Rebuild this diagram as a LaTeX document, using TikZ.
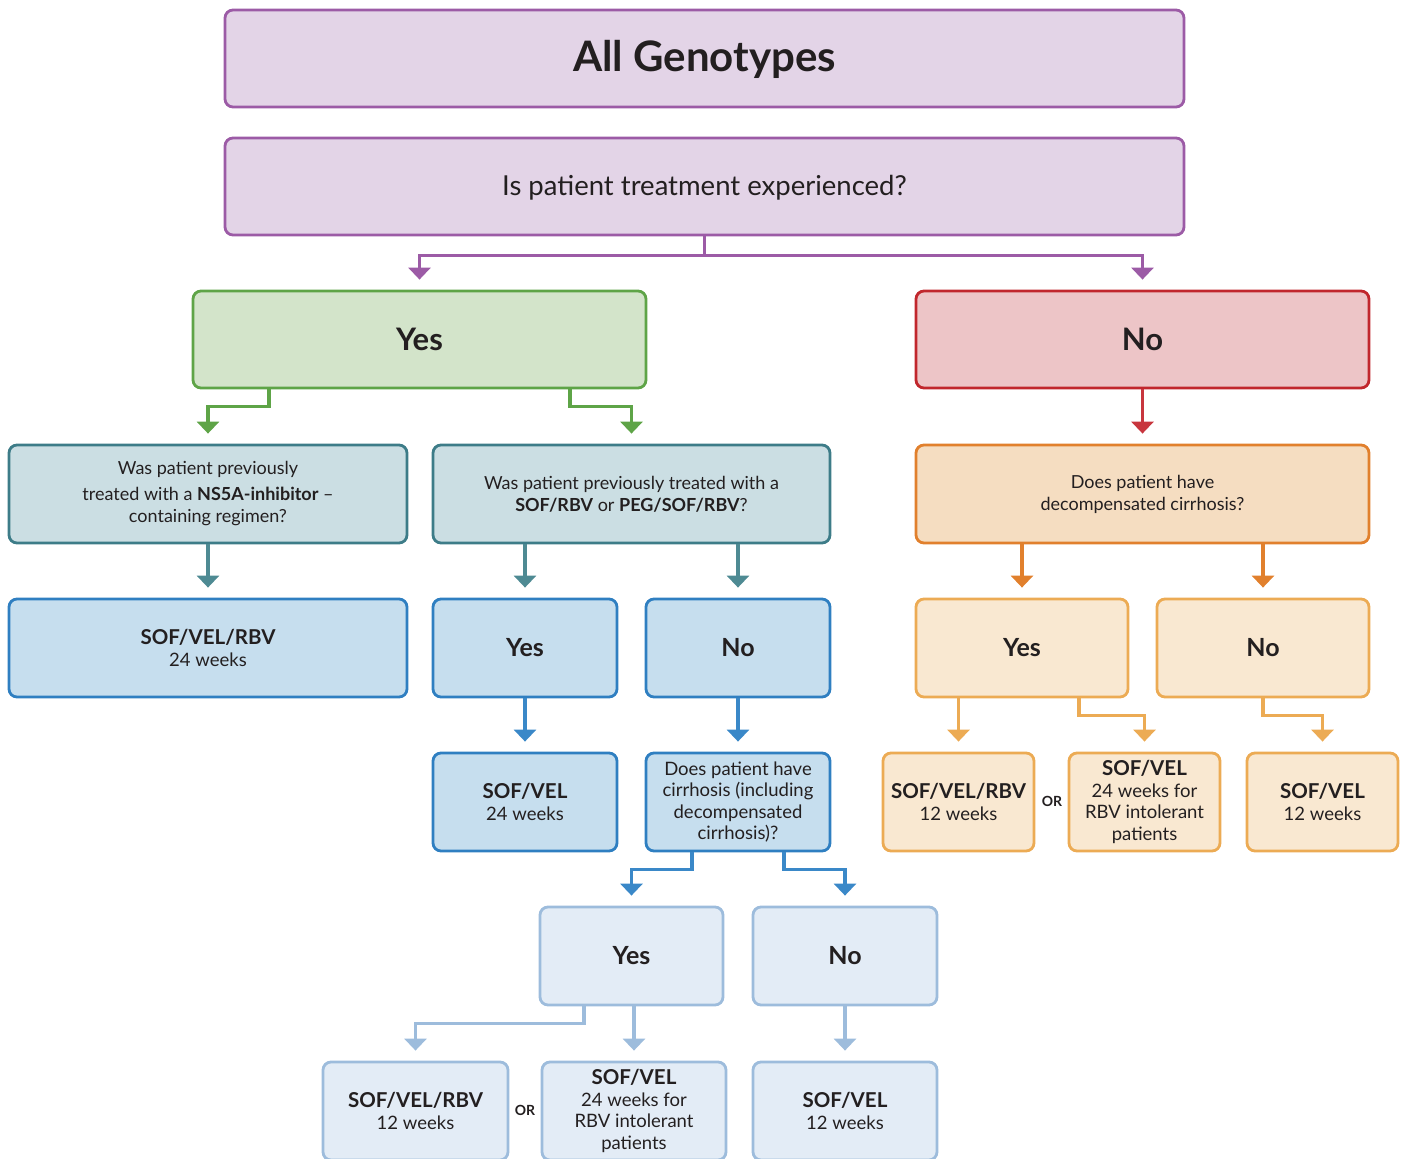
\documentclass[tikz,border=0pt]{standalone}
\usepackage{fontspec}
\setmainfont{Lato}
\usetikzlibrary{arrows.meta}
\definecolor{ink}{HTML}{231F20}
\definecolor{purB}{HTML}{9C5BA6}\definecolor{purF}{HTML}{E3D4E7}
\definecolor{grnB}{HTML}{5EA447}\definecolor{grnF}{HTML}{D3E4CA}
\definecolor{redB}{HTML}{C1272D}\definecolor{redF}{HTML}{EDC5C7}\definecolor{redA}{HTML}{C8363E}
\definecolor{tealB}{HTML}{3D7C88}\definecolor{tealF}{HTML}{CBDEE3}\definecolor{tealA}{HTML}{4E8A93}
\definecolor{orgB}{HTML}{E1802D}\definecolor{orgF}{HTML}{F5DDC1}
\definecolor{lorB}{HTML}{ECAB54}\definecolor{lorF}{HTML}{F9E8D1}
\definecolor{bluB}{HTML}{2F7FC1}\definecolor{bluF}{HTML}{C6DEEE}\definecolor{bluA}{HTML}{3A88C8}
\definecolor{pblB}{HTML}{9DBCDC}\definecolor{pblF}{HTML}{E3ECF6}
\newcommand{\bsz}[1]{{\fontsize{20.5}{21.5}\selectfont\bfseries #1}}
\begin{document}
\begin{tikzpicture}[x=1pt,y=-1pt,
  box/.style={draw=#1B, fill=#1F, rounded corners=8pt, line width=2.8pt, inner sep=0pt,
    align=center, text=ink, font=\fontsize{18}{22}\selectfont},
  sz/.style 2 args={minimum width=#1pt, minimum height=#2pt},
  big/.style={font=\fontsize{31}{34}\selectfont\bfseries},
  mid/.style={font=\fontsize{25}{28}\selectfont\bfseries},
  med/.style={font=\fontsize{18.5}{21.5}\selectfont},
  conn/.style={draw=#1, line width=3.6pt, shorten >=10pt,
    -{Triangle[width=22pt,length=12pt]}},
  ortext/.style={font=\fontsize{14}{16}\selectfont\bfseries, text=ink, inner sep=0pt}
]
\useasboundingbox (0,0) rectangle (1406,1159);
\clip (0,0) rectangle (1406,1159);

% nodes
\node[box=pur, sz={959}{97}, font=\fontsize{42}{46}\selectfont\bfseries, text depth=6pt] (title) at (704.5,58.5) {All Genotypes};
\node[box=pur, sz={959}{97}, font=\fontsize{27.5}{31}\selectfont, text depth=3pt] (q) at (704.5,186.5) {Is patient treatment experienced?};
\node[box=grn, sz={453}{97}, big] (yes) at (419.5,339.5) {Yes};
\node[box=red, sz={453}{97}, big] (no) at (1142.5,339.5) {No};

\node[box=teal, sz={398}{98}] (ns5a) at (208,494) {Was patient previously\\[4pt] treated with a \textbf{NS5A-inhibitor} --\\ containing regimen?};
\node[box=teal, sz={397}{98}] (sofq) at (631.5,494) {Was patient previously treated with a\\ \textbf{SOF/RBV} or \textbf{PEG/SOF/RBV}?};
\node[box=org, sz={453}{98}] (decomp) at (1142.5,494) {Does patient have\\ decompensated cirrhosis?};

\node[box=blu, sz={398}{98}, med] (r3a) at (208,648) {\bsz{SOF/VEL/RBV}\\ 24 weeks};
\node[box=blu, sz={184}{98}, mid] (r3b) at (525,648) {Yes};
\node[box=blu, sz={184}{98}, mid] (r3c) at (738,648) {No};
\node[box=lor, sz={212}{98}, mid] (r3d) at (1022,648) {Yes};
\node[box=lor, sz={212}{98}, mid] (r3e) at (1263,648) {No};

\node[box=blu, sz={184}{98}, med] (r4a) at (525,802) {\bsz{SOF/VEL}\\ 24 weeks};
\node[box=blu, sz={184}{98}, med] (r4b) at (738,802) {Does patient have\\ cirrhosis (including\\ decompensated\\ cirrhosis)?};
\node[box=lor, sz={151}{98}, med] (r4c) at (958.5,802) {\bsz{SOF/VEL/RBV}\\ 12 weeks};
\node[box=lor, sz={151}{98}, med] (r4d) at (1144.5,802) {\bsz{SOF/VEL}\\ 24 weeks for\\ RBV intolerant\\ patients};
\node[box=lor, sz={151}{98}, med] (r4e) at (1322.5,802) {\bsz{SOF/VEL}\\ 12 weeks};
\node[ortext] (or1) at (1052,801) {OR};

\node[box=pbl, sz={183}{98}, mid] (r5a) at (631.5,956) {Yes};
\node[box=pbl, sz={184}{98}, mid] (r5b) at (845,956) {No};

\node[box=pbl, sz={185}{98}, med] (r6a) at (415.5,1111) {\bsz{SOF/VEL/RBV}\\ 12 weeks};
\node[box=pbl, sz={184}{98}, med] (r6b) at (634,1111) {\bsz{SOF/VEL}\\ 24 weeks for\\ RBV intolerant\\ patients};
\node[box=pbl, sz={184}{98}, med] (r6c) at (845,1111) {\bsz{SOF/VEL}\\ 12 weeks};
\node[ortext] (or2) at (525,1110) {OR};

% connectors
\draw[conn=purB] (q.south) -- ++(0,19) -| (yes.north);
\draw[conn=purB] (q.south) -- ++(0,19) -| (no.north);
\draw[conn=grnB] ([xshift=-150.5pt]yes.south) -- ++(0,17) -| (ns5a.north);
\draw[conn=grnB] ([xshift=150.5pt]yes.south) -- ++(0,17) -| (sofq.north);
\draw[conn=redA] (no.south) -- (decomp.north);
\draw[conn=tealA] (ns5a.south) -- (r3a.north);
\draw[conn=tealA] (sofq.south -| r3b.north) -- (r3b.north);
\draw[conn=tealA] (sofq.south -| r3c.north) -- (r3c.north);
\draw[conn=orgB] (decomp.south -| r3d.north) -- (r3d.north);
\draw[conn=orgB] (decomp.south -| r3e.north) -- (r3e.north);
\draw[conn=bluA] (r3b.south) -- (r4a.north);
\draw[conn=bluA] (r3c.south) -- (r4b.north);
\draw[conn=lorB] (r3d.south -| r4c.north) -- (r4c.north);
\draw[conn=lorB] ([xshift=57pt]r3d.south) -- ++(0,17) -| (r4d.north);
\draw[conn=lorB] (r3e.south) -- ++(0,17) -| (r4e.north);
\draw[conn=bluA] ([xshift=-46pt]r4b.south) -- ++(0,17) -| (r5a.north);
\draw[conn=bluA] ([xshift=46pt]r4b.south) -- ++(0,17) -| (r5b.north);
\draw[conn=pblB] ([xshift=-47.5pt]r5a.south) -- ++(0,17) -| (r6a.north);
\draw[conn=pblB] (r5a.south -| r6b.north) -- (r6b.north);
\draw[conn=pblB] (r5b.south) -- (r6c.north);
\end{tikzpicture}
\end{document}
